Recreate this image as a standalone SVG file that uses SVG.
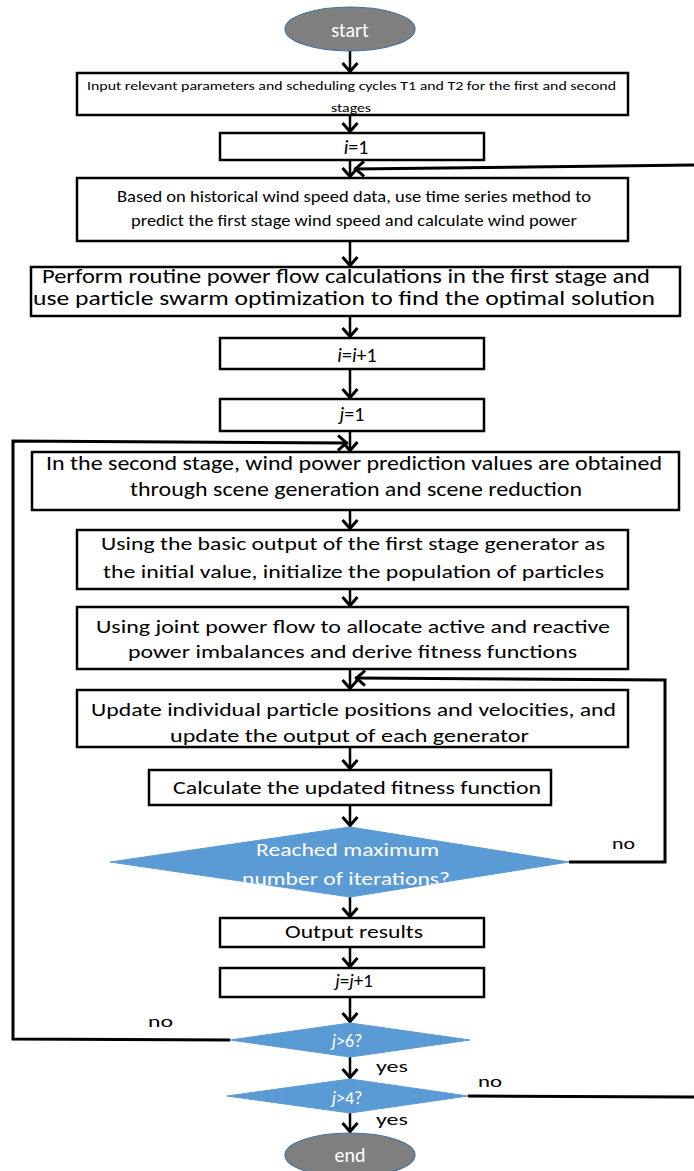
<svg xmlns="http://www.w3.org/2000/svg" width="694" height="1171" viewBox="0 0 694 1171">
<style>
text{font-family:Carlito,Lato,"Liberation Sans",sans-serif;fill:#000}
.box{fill:#fff;stroke:#000;stroke-width:2.5}
.dia{fill:#5B9BD5;stroke:#5B9BD5;stroke-width:1}
.ell{fill:#7F7F7F;stroke:#41719C;stroke-width:1.2}
.w{fill:#fff}
.c{text-anchor:middle}
.ln{fill:none;stroke:#000;stroke-width:2.5}
.lp{fill:none;stroke:#000;stroke-width:3}
.it{font-style:italic}
</style>
<defs>
<marker id="ah" viewBox="-12 -10 14 20" markerWidth="14" markerHeight="20" refX="0" refY="0" orient="auto" markerUnits="userSpaceOnUse" overflow="visible">
<path d="M-10,-7.5 L-1.5,0 L-10,7.5" fill="none" stroke="#000" stroke-width="3"/>
</marker>
</defs>
<g id="connectors">
<path class="ln" marker-end="url(#ah)" d="M350,51 V73"/>
<path class="ln" marker-end="url(#ah)" d="M350,115 V133"/>
<path class="ln" marker-end="url(#ah)" d="M350,160 V178"/>
<path class="ln" marker-end="url(#ah)" d="M350,241 V267"/>
<path class="ln" marker-end="url(#ah)" d="M350,316 V338"/>
<path class="ln" marker-end="url(#ah)" d="M350,369 V399"/>
<path class="ln" marker-end="url(#ah)" d="M350,431 V452"/>
<path class="ln" marker-end="url(#ah)" d="M350,510 V530"/>
<path class="ln" marker-end="url(#ah)" d="M350,589 V607"/>
<path class="ln" marker-end="url(#ah)" d="M350,669 V690"/>
<path class="ln" marker-end="url(#ah)" d="M350,747 V770"/>
<path class="ln" marker-end="url(#ah)" d="M350,805 V827"/>
<path class="ln" marker-end="url(#ah)" d="M350,897 V918"/>
<path class="ln" marker-end="url(#ah)" d="M350,947 V968"/>
<path class="ln" marker-end="url(#ah)" d="M350,997 V1023"/>
<path class="ln" marker-end="url(#ah)" d="M350,1057 V1079"/>
<path class="ln" marker-end="url(#ah)" d="M350,1113 V1133"/>
<path class="lp" marker-end="url(#ah)" d="M694,165 L354,169"/>
<path class="lp" marker-end="url(#ah)" d="M569,862 H665 V680 L355,678"/>
<path class="lp" marker-end="url(#ah)" d="M230,1040 L13,1039 V441 L348,443"/>
<path class="lp" d="M468,1096 L694,1097"/>
<text x="612" y="849" font-size="17" textLength="23" lengthAdjust="spacingAndGlyphs">no</text>
<text x="148" y="1027" font-size="17" textLength="25" lengthAdjust="spacingAndGlyphs">no</text>
<text x="376" y="1072" font-size="17" textLength="32" lengthAdjust="spacingAndGlyphs">yes</text>
<text x="478" y="1087" font-size="17" textLength="24" lengthAdjust="spacingAndGlyphs">no</text>
<text x="376" y="1125" font-size="17" textLength="32" lengthAdjust="spacingAndGlyphs">yes</text>
</g>
<g id="start">
<ellipse class="ell" cx="350" cy="29" rx="65" ry="22"/>
<text class="w c" x="350" y="37" font-size="20">start</text>
</g>
<g id="input">
<rect class="box" x="77" y="73" width="551" height="42"/>
<text x="87" y="89.5" font-size="13" textLength="529" lengthAdjust="spacingAndGlyphs">Input relevant parameters and scheduling cycles T1 and T2 for the first and second</text>
<text x="331" y="112" font-size="13" textLength="40" lengthAdjust="spacingAndGlyphs">stages</text>
</g>
<g id="i1">
<rect class="box" x="220" y="133" width="264" height="27"/>
<text class="c" x="356" y="154" font-size="20"><tspan class="it">i</tspan>=1</text>
</g>
<g id="predict">
<rect class="box" x="77" y="178" width="551" height="63"/>
<text x="117" y="201.5" font-size="16.5" textLength="474" lengthAdjust="spacingAndGlyphs">Based on historical wind speed data, use time series method to</text>
<text x="131" y="225.5" font-size="16.5" textLength="446" lengthAdjust="spacingAndGlyphs">predict the first stage wind speed and calculate wind power</text>
</g>
<g id="perform">
<rect class="box" x="31" y="267" width="649" height="49"/>
<text x="42" y="283" font-size="20" textLength="608" lengthAdjust="spacingAndGlyphs">Perform routine power flow calculations in the first stage and</text>
<text x="33" y="305" font-size="20" textLength="622" lengthAdjust="spacingAndGlyphs">use particle swarm optimization to find the optimal solution</text>
</g>
<g id="iinc">
<rect class="box" x="220" y="338" width="264" height="31"/>
<text class="c" x="357" y="362" font-size="20"><tspan class="it">i</tspan>=<tspan class="it">i</tspan>+1</text>
</g>
<g id="j1">
<rect class="box" x="220" y="399" width="264" height="32"/>
<text class="c" x="352" y="421" font-size="20"><tspan class="it">j</tspan>=1</text>
</g>
<g id="scene">
<rect class="box" x="32" y="452" width="647" height="58"/>
<text x="46" y="470" font-size="20" textLength="616" lengthAdjust="spacingAndGlyphs">In the second stage, wind power prediction values are obtained</text>
<text x="130" y="496" font-size="20" textLength="452" lengthAdjust="spacingAndGlyphs">through scene generation and scene reduction</text>
</g>
<g id="init">
<rect class="box" x="77" y="530" width="551" height="59"/>
<text x="101" y="550" font-size="19" textLength="504" lengthAdjust="spacingAndGlyphs">Using the basic output of the first stage generator as</text>
<text x="103" y="578" font-size="19" textLength="501" lengthAdjust="spacingAndGlyphs">the initial value, initialize the population of particles</text>
</g>
<g id="joint">
<rect class="box" x="77" y="607" width="551" height="62"/>
<text x="96" y="633" font-size="19" textLength="514" lengthAdjust="spacingAndGlyphs">Using joint power flow to allocate active and reactive</text>
<text x="128" y="658" font-size="19" textLength="449" lengthAdjust="spacingAndGlyphs">power imbalances and derive fitness functions</text>
</g>
<g id="update">
<rect class="box" x="77" y="690" width="551" height="57"/>
<text x="91" y="716" font-size="19" textLength="525" lengthAdjust="spacingAndGlyphs">Update individual particle positions and velocities, and</text>
<text x="170" y="742" font-size="19" textLength="359" lengthAdjust="spacingAndGlyphs">update the output of each generator</text>
</g>
<g id="calc">
<rect class="box" x="149" y="770" width="402" height="35"/>
<text x="173" y="794" font-size="19" textLength="368" lengthAdjust="spacingAndGlyphs">Calculate the updated fitness function</text>
</g>
<g id="maxiter">
<polygon class="dia" points="350,827 569,862 350,897 110,862"/>
<text class="w" x="256" y="856" font-size="19" textLength="183" lengthAdjust="spacingAndGlyphs">Reached maximum</text>
<text class="w" x="242" y="885" font-size="19" textLength="208" lengthAdjust="spacingAndGlyphs">number of iterations?</text>
</g>
<g id="output">
<rect class="box" x="220" y="918" width="264" height="29"/>
<text x="285" y="938" font-size="19" textLength="138" lengthAdjust="spacingAndGlyphs">Output results</text>
</g>
<g id="jinc">
<rect class="box" x="220" y="968" width="264" height="29"/>
<text class="c" x="354" y="987" font-size="19"><tspan class="it">j</tspan>=<tspan class="it">j</tspan>+1</text>
</g>
<g id="j6">
<polygon class="dia" points="350,1023 470,1040 350,1057 230,1040"/>
<text class="w c" x="347" y="1047" font-size="18"><tspan class="it">j</tspan>&gt;6?</text>
</g>
<g id="j4">
<polygon class="dia" points="350,1079 468,1096 350,1113 227,1096"/>
<text class="w c" x="347" y="1104" font-size="18"><tspan class="it">j</tspan>&gt;4?</text>
</g>
<g id="end">
<ellipse class="ell" cx="350" cy="1155" rx="65" ry="22"/>
<text class="w c" x="350" y="1162" font-size="20">end</text>
</g>
</svg>
